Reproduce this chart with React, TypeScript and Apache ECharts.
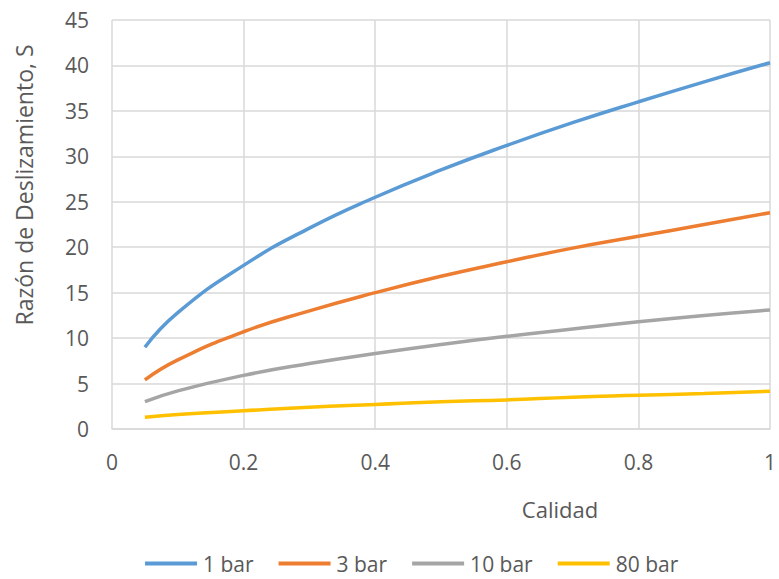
import React, { useEffect, useRef } from "react";
import * as echarts from "echarts";

const calidad = [0.05, 0.1, 0.2, 0.3, 0.4, 0.5, 0.6, 0.7, 0.8, 0.9, 1.0];
const s1bar = [9.0, 12.8, 18.0, 22.1, 25.5, 28.5, 31.2, 33.7, 36.0, 38.2, 40.3];
const s3bar = [5.4, 7.6, 10.7, 13.0, 15.0, 16.8, 18.4, 19.9, 21.2, 22.5, 23.8];
const s10bar = [3.0, 4.2, 5.9, 7.2, 8.3, 9.3, 10.2, 11.0, 11.8, 12.5, 13.1];
const s80bar = [1.3, 1.6, 2.0, 2.4, 2.7, 3.0, 3.2, 3.5, 3.7, 3.9, 4.15];
const seriesNames = ["1 bar", "3 bar", "10 bar", "80 bar"];
const colors = ["#5B9BD5", "#ED7D31", "#A5A5A5", "#FFC000"];

const FONT = "'Open Sans', sans-serif";
const TXT = "#595959";

export default function App() {
  const ref = useRef<HTMLDivElement>(null);
  useEffect(() => {
    if (!ref.current) return;
    const chart = echarts.init(ref.current, undefined, { renderer: "svg" });
    const all = [s1bar, s3bar, s10bar, s80bar];
    chart.setOption({
      animation: false,
      backgroundColor: "#ffffff",
      color: colors,
      grid: { left: 112, right: 9, top: 20, bottom: 150 },
      xAxis: {
        type: "value",
        min: 0,
        max: 1,
        interval: 0.2,
        axisLine: { show: true, lineStyle: { color: "#D9D9D9", width: 1.5 } },
        axisTick: { show: false },
        splitLine: { show: true, lineStyle: { color: "#D9D9D9", width: 1.5 } },
        axisLabel: { color: TXT, fontSize: 21, fontFamily: FONT, margin: 22 },
      },
      yAxis: {
        type: "value",
        min: 0,
        max: 45,
        interval: 5,
        axisLine: { show: false },
        axisTick: { show: false },
        splitLine: { show: true, lineStyle: { color: "#D9D9D9", width: 1.5 } },
        axisLabel: { color: TXT, fontSize: 21, fontFamily: FONT, margin: 23 },
      },
      legend: {
        left: 145,
        top: 553,
        padding: 0,
        itemWidth: 52,
        itemHeight: 4,
        itemGap: 25,
        icon: "rect",
        textStyle: { color: TXT, fontSize: 21, fontFamily: FONT, padding: [0, 0, 0, 1] },
        data: seriesNames,
      },
      graphic: [
        {
          type: "text",
          x: 560,
          y: 509,
          style: {
            text: "Calidad",
            fill: TXT,
            font: `22px ${FONT}`,
            textAlign: "center",
            textVerticalAlign: "middle",
          },
        },
        {
          type: "text",
          x: 24,
          y: 185,
          rotation: Math.PI / 2,
          style: {
            text: "Razón de Deslizamiento, S",
            fill: TXT,
            font: `23px ${FONT}`,
            textAlign: "center",
            textVerticalAlign: "middle",
          },
        },
      ],
      series: all.map((vals, i) => ({
        name: seriesNames[i],
        type: "line",
        smooth: true,
        symbol: "none",
        lineStyle: { width: 3.5, color: colors[i] },
        itemStyle: { color: colors[i] },
        data: calidad.map((x, j) => [x, vals[j]]),
      })),
    });
    return () => chart.dispose();
  }, []);
  return <div ref={ref} style={{ width: 779, height: 579, position: "absolute", left: 0, top: 0 }} />;
}
